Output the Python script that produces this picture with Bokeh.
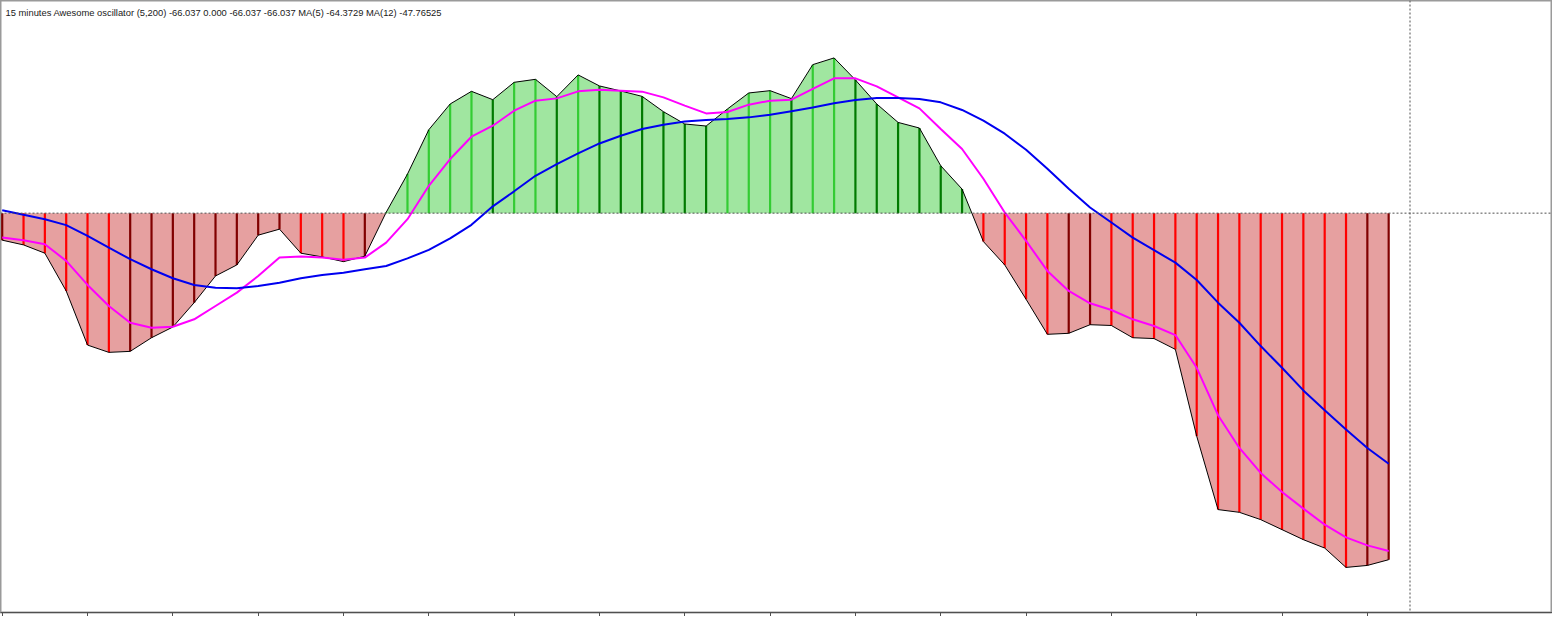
import numpy as np
from bokeh.plotting import figure
from bokeh.models import Range1d, Span, Label, FixedTicker
from bokeh.embed import file_html
from bokeh.resources import INLINE

title_text = ("15 minutes Awesome oscillator (5,200) -66.037 0.000 -66.037 -66.037 "
              "MA(5) -64.3729 MA(12) -47.76525")

# Awesome oscillator histogram values (one per bar)
ao = [-5.15, -6.05, -7.63, -14.83, -25.14, -26.53, -26.34, -23.74, -21.70, -17.06,
      -11.97, -9.87, -4.20, -3.05, -7.63, -8.34, -9.24, -8.21, 0.15, 7.44,
      15.90, 20.80, 23.21, 21.62, 24.93, 25.50, 22.20, 26.34, 24.24, 23.28,
      22.25, 19.33, 16.99, 16.60, 19.85, 22.90, 23.34, 21.82, 28.30, 29.58,
      25.38, 20.80, 17.29, 16.22, 9.03, 4.58, -5.42, -9.87, -16.41, -23.09,
      -22.90, -21.26, -21.41, -23.74, -23.90, -25.96, -42.50, -56.49, -57.01, -58.40,
      -60.31, -62.22, -63.82, -67.51, -67.13, -66.037]

# MA(5) of the oscillator (magenta)
ma5 = [-4.66, -5.15, -5.92, -9.10, -13.68, -17.69, -20.88, -21.83, -21.64, -20.23,
       -17.69, -15.15, -11.97, -8.47, -8.28, -8.47, -8.86, -8.47, -5.61, -1.15,
       5.21, 10.31, 14.56, 16.66, 19.52, 21.43, 21.87, 23.21, 23.53, 23.34,
       23.15, 22.06, 20.48, 19.01, 19.28, 20.67, 21.43, 21.62, 23.67, 25.69,
       25.69, 24.16, 22.06, 19.96, 16.03, 12.22, 6.55, 0.11, -5.29, -11.01,
       -14.83, -17.18, -18.46, -20.23, -21.51, -23.23, -29.47, -38.50, -44.74, -49.51,
       -53.14, -56.30, -59.36, -61.78, -63.31, -64.3729]

# MA(12) of the oscillator (blue)
ma12 = [0.57, -0.32, -1.15, -2.29, -4.33, -6.57, -8.78, -10.69, -12.41, -13.68,
        -14.20, -14.31, -13.88, -13.25, -12.41, -11.78, -11.34, -10.69, -10.06, -8.63,
        -7.00, -4.81, -2.23, 1.30, 4.16, 7.12, 9.35, 11.38, 13.28, 14.75,
        16.03, 16.85, 17.48, 17.75, 17.94, 18.25, 18.76, 19.43, 20.15, 20.92,
        21.57, 21.95, 21.95, 21.76, 21.11, 19.66, 17.62, 15.14, 12.08, 8.46,
        4.64, 1.07, -1.79, -4.66, -7.06, -9.43, -12.73, -17.06, -20.88, -25.33,
        -29.47, -33.78, -37.54, -41.23, -44.74, -47.76525]

tick_bars = list(range(0, 65, 4))
cursor_bar = 66

n = len(ao)
x = np.arange(n)
aov = np.array(ao)

# bar colours: bright when rising, dark when falling
cols = []
for i in range(n):
    rising = i == 0 or aov[i] >= aov[i - 1]
    if aov[i] >= 0:
        cols.append("#33cc33" if rising else "#007a00")
    else:
        cols.append("#800000" if rising else "#ff0000")

# polygon with interpolated zero crossings for the fills
xs, ys = [x[0]], [aov[0]]
for i in range(1, n):
    a, b = aov[i - 1], aov[i]
    if a * b < 0:
        t = a / (a - b)
        xs.append(i - 1 + t)
        ys.append(0.0)
    xs.append(i)
    ys.append(b)
xs = np.array(xs, dtype=float)
ys = np.array(ys, dtype=float)

p = figure(width=1552, height=616, output_backend="svg", toolbar_location=None,
           x_range=Range1d(-0.08, 72.68), y_range=Range1d(-76.10, 40.52),
           y_axis_location=None, min_border=0, min_border_left=0, min_border_right=0,
           min_border_top=0, min_border_bottom=0)
p.background_fill_color = "white"
p.border_fill_color = "white"
p.xgrid.visible = False
p.ygrid.visible = False
p.outline_line_color = "#9a9a9a"
p.outline_line_width = 2

ax = p.xaxis[0]
ax.ticker = FixedTicker(ticks=tick_bars)
ax.major_tick_out = 4
ax.major_tick_in = 0
ax.minor_tick_line_color = None
ax.major_label_text_font_size = "1px"
ax.major_label_text_color = None
ax.major_label_standoff = 0
ax.axis_line_color = "#505050"
ax.major_tick_line_color = "#505050"

p.varea(x=xs, y1=0, y2=np.maximum(ys, 0), fill_color="#a0e6a0")
p.varea(x=xs, y1=0, y2=np.minimum(ys, 0), fill_color="#e6a0a0")
p.segment(x0=x, y0=0, x1=x, y1=aov, line_color=cols, line_width=2.2)
p.line(xs, ys, line_color="black", line_width=1)
p.line(x, ma5, line_color="#ff00ff", line_width=2)
p.line(x, ma12, line_color="#0000f0", line_width=2)

p.add_layout(Span(location=0, dimension="width", line_color="#505050",
                  line_dash="2 2", line_width=1))
p.add_layout(Span(location=cursor_bar, dimension="height", line_color="#505050",
                  line_dash="2 2", line_width=1))

p.add_layout(Label(x=0.155, y=38.23, text=title_text, text_font="Liberation Sans",
                   text_font_size="9.4px", text_baseline="middle", text_color="#202020"))

open("out.html", "w").write(file_html(p, INLINE))
